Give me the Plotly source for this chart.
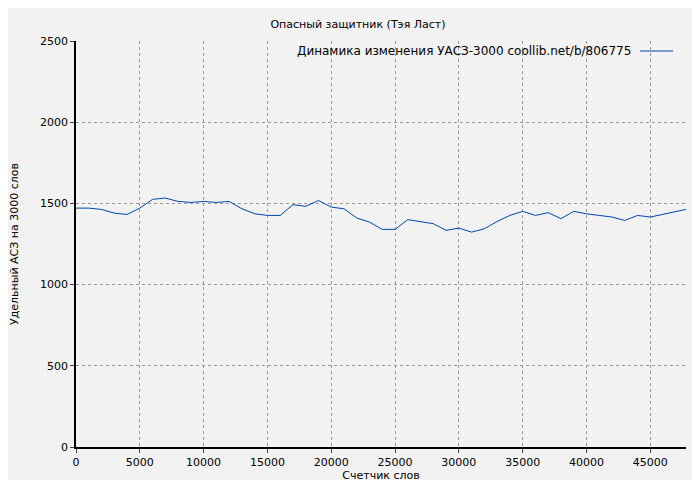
import plotly.graph_objects as go

words = [0,1000,2000,3000,4000,5000,6000,7000,8000,9000,10000,11000,12000,13000,14000,15000,16000,17000,18000,19000,20000,21000,22000,23000,24000,25000,26000,27000,28000,29000,30000,31000,32000,33000,34000,35000,36000,37000,38000,39000,40000,41000,42000,43000,44000,45000,46000,47000,47800]
values = [1471,1471,1463,1440,1432,1471,1525,1533,1512,1506,1512,1506,1512,1467,1436,1426,1426,1492,1482,1518,1477,1467,1410,1385,1340,1340,1400,1389,1375,1334,1348,1323,1344,1389,1426,1451,1426,1443,1406,1451,1436,1426,1416,1395,1426,1416,1432,1447,1463]
legend_text = "Динамика изменения УАСЗ-3000 coollib.net/b/806775"

fig = go.Figure(go.Scatter(x=words, y=values, mode="lines", line=dict(color="#0047ab", width=1),
                           name=legend_text, showlegend=False))
ax = dict(showline=True, linecolor="black", linewidth=1.5, ticks="outside", ticklen=4,
          gridcolor="#999999", griddash="dot", gridwidth=1, zeroline=False, mirror=False,
          automargin=False, tickformat="d", title_font=dict(size=11))
fig.update_layout(
    width=700, height=480, margin=dict(l=68, r=22, t=33, b=41),
    paper_bgcolor="#f2f2f2", plot_bgcolor="#f2f2f2",
    font=dict(family="DejaVu Sans", size=11, color="black"),
    title=dict(text="Опасный защитник (Тэя Ласт)", x=0.5, y=0.975, xanchor="center", font=dict(size=11)),
    xaxis=dict(ax, range=[0, 47800], dtick=5000, title=dict(text="Счетчик слов", standoff=2)),
    yaxis=dict(ax, range=[0, 2500], dtick=500, title=dict(text="Удельный АСЗ на 3000 слов", standoff=22)),
)
fig.add_annotation(text=legend_text, xref="paper", yref="paper", x=(625-68)/610, y=1-(43-33)/406,
                   xanchor="right", yanchor="middle", showarrow=False, font=dict(size=12))
fig.add_shape(type="line", xref="paper", yref="paper", x0=(632-68)/610, x1=(665-68)/610,
              y0=1-(43-33)/406, y1=1-(43-33)/406, line=dict(color="#0047ab", width=1))
fig.write_html("out.html")
